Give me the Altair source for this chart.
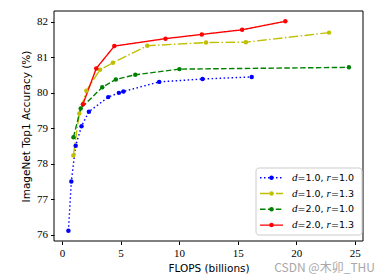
import altair as alt
import pandas as pd

# FLOPS (billions) and top-1 accuracy for each scaling configuration
blue_x = [0.55, 0.80, 1.17, 1.67, 2.30, 3.95, 4.86, 5.25, 8.30, 12.0, 16.2]
blue_y = [76.11, 77.50, 78.51, 79.06, 79.47, 79.88, 80.00, 80.04, 80.31, 80.39, 80.45]

yellow_x = [0.97, 1.48, 2.08, 3.25, 4.35, 7.28, 12.3, 15.7, 22.8]
yellow_y = [78.23, 79.42, 80.06, 80.65, 80.85, 81.33, 81.42, 81.43, 81.70]

green_x = [0.98, 1.60, 3.44, 4.60, 6.26, 10.03, 24.5]
green_y = [78.75, 79.56, 80.16, 80.38, 80.51, 80.67, 80.72]

red_x = [1.79, 2.93, 4.47, 8.84, 11.94, 15.38, 19.07]
red_y = [79.68, 80.69, 81.32, 81.53, 81.65, 81.78, 82.02]

series_d = ["1.0", "1.0", "2.0", "2.0"]
series_r = ["1.0", "1.3", "1.0", "1.3"]

x_ticks = [0, 5, 10, 15, 20, 25]
y_ticks = [76, 77, 78, 79, 80, 81, 82]

colors = ["#0000ff", "#bfbf00", "#008000", "#ff0000"]
dashes = [[1.5, 2.5], [9.6, 2.4, 1.5, 2.4], [5.5, 2.4], [1, 0]]

W, H = 309, 230
SANS = "DejaVu Sans"
SERIF = "Liberation Serif"

series = [(blue_x, blue_y), (yellow_x, yellow_y), (green_x, green_y), (red_x, red_y)]
keys = [f"d={d}, r={r}" for d, r in zip(series_d, series_r)]

rows = []
for k, (xs, ys) in zip(keys, series):
    for xv, yv in zip(xs, ys):
        rows.append({"series": k, "flops": xv, "acc": yv})
df = pd.DataFrame(rows)

x_scale = alt.Scale(domain=[-0.68, 25.7], nice=False, zero=False)
y_scale = alt.Scale(domain=[75.82, 82.31], nice=False, zero=False)

x_axis = alt.Axis(values=x_ticks, title="FLOPS (billions)", grid=False,
                  labelFont=SERIF, labelFontSize=11, labelColor="black",
                  titleFont=SANS, titleFontSize=10.5, titleFontWeight="normal",
                  titleColor="black", titlePadding=5, tickSize=3.5,
                  tickColor="black", labelPadding=3, domain=False)
y_axis = alt.Axis(values=y_ticks, title="ImageNet Top1 Accuracy (%)", grid=False,
                  labelFont=SERIF, labelFontSize=11, labelColor="black",
                  titleFont=SANS, titleFontSize=10.5, titleFontWeight="normal",
                  titleColor="black", titlePadding=5, tickSize=3.5,
                  tickColor="black", labelPadding=3, domain=False)

enc = dict(
    x=alt.X("flops:Q", scale=x_scale, axis=x_axis),
    y=alt.Y("acc:Q", scale=y_scale, axis=y_axis),
    color=alt.Color("series:N", scale=alt.Scale(domain=keys, range=colors), legend=None),
    order=alt.Order("flops:Q"),
)

base = alt.Chart(df)
lines = base.mark_line(strokeWidth=1.4).encode(
    **enc,
    strokeDash=alt.StrokeDash("series:N", scale=alt.Scale(domain=keys, range=dashes),
                              legend=None),
)
points = base.mark_point(filled=True, opacity=1, size=20, shape="circle").encode(
    x=enc["x"], y=enc["y"], color=enc["color"])

layers = [lines, points]
one = pd.DataFrame({"k": [0]})

# plot frame
layers.append(alt.Chart(one).mark_rect(fill=None, stroke="black", strokeWidth=1).encode(
    x=alt.value(0), x2=alt.value(W), y=alt.value(0), y2=alt.value(H)))

# legend box
LX0, LX1, LY0, LY1 = 256 - 54, 362 - 54, 168 - 11, 235 - 11
layers.append(alt.Chart(one).mark_rect(fill="white", fillOpacity=0.8, stroke="#cccccc",
                                       strokeWidth=1, cornerRadius=3).encode(
    x=alt.value(LX0), x2=alt.value(LX1), y=alt.value(LY0), y2=alt.value(LY1)))

for i in range(4):
    yy = 177.7 - 11 + i * 15.8
    layers.append(alt.Chart(one).mark_rule(color=colors[i], strokeWidth=1.4,
                                           strokeDash=dashes[i]).encode(
        x=alt.value(260 - 54), x2=alt.value(283 - 54), y=alt.value(yy)))
    layers.append(alt.Chart(one).mark_point(color=colors[i], filled=True, opacity=1,
                                            size=20, shape="circle").encode(
        x=alt.value(271.5 - 54), y=alt.value(yy)))
    pieces = [("d", 292, SERIF, "italic", 11), ("=" + series_d[i] + ",", 297.5, SANS, "normal", 9.5),
              ("r", 326.5, SERIF, "italic", 11), ("=" + series_r[i], 331, SANS, "normal", 9.5)]
    for txt, px, fnt, sty, fs in pieces:
        layers.append(alt.Chart(one).mark_text(text=txt, font=fnt, fontStyle=sty,
                                               fontSize=fs, align="left",
                                               baseline="middle", color="black").encode(
            x=alt.value(px - 54), y=alt.value(yy)))

layers.append(alt.Chart(one).mark_text(text="CSDN @木卯_THU", font="Noto Sans CJK SC",
                                       fontSize=12, align="right", baseline="middle",
                                       color="#a8a8a8").encode(
    x=alt.value(375 - 54), y=alt.value(268 - 11)))

chart = alt.layer(*layers).properties(
    width=W, height=H,
    autosize=alt.AutoSizeParams(type="none"),
    padding={"left": 54, "top": 11, "right": 27, "bottom": 39},
).configure_view(stroke=None)

chart.save("out.html", embed_options={"renderer": "svg", "actions": False})
